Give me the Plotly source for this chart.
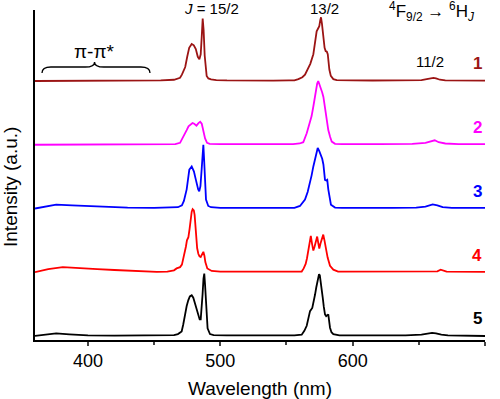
import plotly.graph_objects as go

# ---- data: (wavelength nm, normalised intensity) ----
curve1 = [(360, 0.0), (380, 0.0), (400, 0.0), (420, 0.0), (440, 0.005), (455, 0.01), (465, 0.02),
          (469.6, 0.05), (471, 0.1), (472, 0.16), (473.5, 0.22), (475, 0.38), (476.5, 0.52), (478.4, 0.58),
          (480, 0.56), (481.5, 0.5), (483, 0.38), (484.2, 0.34), (485.2, 0.42), (486, 0.7), (486.7, 0.98),
          (487.4, 0.8), (488.2, 0.4), (489.7, 0.08), (491, 0.04), (493, 0.025), (497, 0.015), (505, 0.01),
          (520, 0.005), (540, 0.005), (552, 0.01), (556, 0.01), (559, 0.03), (562, 0.06), (564, 0.1),
          (566, 0.18), (568, 0.27), (570.3, 0.42), (571.8, 0.6), (572.8, 0.78), (573.8, 0.82), (574.8, 0.86),
          (575.5, 0.95), (576.1, 1.0), (576.8, 0.9), (577.9, 0.68), (578.8, 0.52), (579.6, 0.47),
          (580.5, 0.46), (581.2, 0.42), (582.4, 0.18), (583.5, 0.08), (585.4, 0.03), (588, 0.015),
          (592, 0.01), (600, 0.01), (615, 0.008), (630, 0.008), (645, 0.01), (652, 0.015), (656, 0.03),
          (659, 0.045), (661, 0.05), (663, 0.04), (666, 0.02), (670, 0.01), (680, 0.005), (690, 0.005),
          (700, 0.005)]

curve2 = [(360, 0.0), (400, 0.0), (440, 0.0), (460, 0.005), (466, 0.01), (469.6, 0.03), (471.5, 0.1),
          (473.3, 0.16), (474.6, 0.23), (476, 0.29), (477.5, 0.31), (479, 0.34), (480.3, 0.33), (482, 0.3),
          (483.5, 0.34), (484.8, 0.36), (486, 0.33), (487.2, 0.23), (488.5, 0.1), (490, 0.03), (492, 0.015),
          (500, 0.01), (540, 0.005), (555, 0.01), (560, 0.02), (562.7, 0.04), (565.3, 0.18), (566.5, 0.28),
          (567.8, 0.34), (569, 0.45), (570.3, 0.6), (572.3, 0.86), (573.2, 0.96), (574, 1.0), (575, 0.95),
          (575.9, 0.89), (577, 0.82), (577.9, 0.75), (578.8, 0.62), (579.6, 0.5), (580.6, 0.35),
          (581.6, 0.23), (583, 0.12), (584.2, 0.05), (586.7, 0.015), (592, 0.01), (620, 0.01), (645, 0.015),
          (655, 0.03), (659, 0.055), (662, 0.07), (665, 0.04), (670, 0.02), (680, 0.01), (700, 0.01)]

curve3 = [(360, 0.0), (368, 0.03), (376, 0.06), (388, 0.05), (400, 0.04), (415, 0.025), (430, 0.015),
          (450, 0.01), (463, 0.01), (468, 0.02), (471, 0.05), (472.5, 0.12), (474.6, 0.3), (476.6, 0.61),
          (478.4, 0.66), (480.1, 0.58), (481.2, 0.48), (482.2, 0.38), (483.3, 0.3), (484.1, 0.27),
          (485, 0.35), (485.9, 0.61), (486.6, 0.88), (487.2, 1.0), (487.7, 0.8), (488.2, 0.56),
          (489.2, 0.14), (490.9, 0.04), (493, 0.02), (500, 0.01), (540, 0.005), (556, 0.01), (560.2, 0.04),
          (562, 0.08), (564, 0.14), (566, 0.26), (567.8, 0.4), (569, 0.52), (570.3, 0.66), (572.3, 0.87),
          (573.6, 0.95), (574.8, 0.9), (576.1, 0.84), (577, 0.78), (577.9, 0.69), (579.1, 0.45),
          (580, 0.44), (580.8, 0.45), (581.6, 0.3), (582.6, 0.15), (583.6, 0.06), (586.7, 0.015),
          (592, 0.01), (630, 0.01), (648, 0.015), (655, 0.03), (660.5, 0.065), (664, 0.05), (668, 0.02),
          (675, 0.01), (700, 0.01)]

curve4 = [(360, 0.0), (370, 0.05), (381, 0.08), (395, 0.07), (407, 0.05), (420, 0.035), (432, 0.02),
          (445, 0.01), (452, 0.005), (460, 0.01), (465, 0.03), (467, 0.06), (469.6, 0.08), (471, 0.12),
          (472, 0.2), (472.8, 0.27), (474, 0.4), (474.8, 0.5), (475.9, 0.55), (476.8, 0.68), (477.6, 0.86),
          (478.4, 0.95), (479.1, 0.99), (480, 0.97), (480.6, 0.9), (481.6, 0.55), (482.5, 0.38),
          (483.4, 0.29), (484.3, 0.25), (485.2, 0.24), (486.3, 0.29), (487.2, 0.32), (488, 0.26),
          (488.7, 0.16), (490.2, 0.06), (493.5, 0.02), (500, 0.01), (540, 0.005), (556, 0.005),
          (561.5, 0.01), (563, 0.06), (564.5, 0.13), (565.5, 0.22), (566.5, 0.34), (567.5, 0.52),
          (568.4, 0.57), (569.3, 0.45), (570.3, 0.34), (571.2, 0.4), (572.1, 0.5), (573.2, 0.56),
          (574.1, 0.45), (574.8, 0.37), (575.7, 0.45), (576.6, 0.53), (577.8, 0.59), (578.7, 0.5),
          (579.6, 0.39), (581.1, 0.23), (582.9, 0.1), (585.4, 0.04), (589, 0.01), (600, 0.01),
          (640, 0.005), (660, 0.01), (664, 0.015), (666.5, 0.04), (668.5, 0.03), (671, 0.01), (700, 0.005)]

curve5 = [(360, 0.0), (368, 0.02), (376, 0.04), (386, 0.025), (400, 0.01), (420, 0.005), (440, 0.005),
          (450, 0.01), (455, 0.015), (460, 0.01), (465, 0.015), (468, 0.03), (470.8, 0.07), (472, 0.18),
          (473.3, 0.35), (474.6, 0.47), (475.8, 0.56), (477, 0.62), (478.4, 0.64), (479.6, 0.6),
          (480.9, 0.51), (482.2, 0.4), (483.4, 0.3), (484.4, 0.26), (485.2, 0.26), (486, 0.42),
          (486.6, 0.65), (487.3, 0.9), (487.9, 0.98), (488.5, 0.8), (489.2, 0.52), (489.8, 0.25),
          (490.4, 0.12), (492.2, 0.03), (495, 0.015), (505, 0.01), (540, 0.005), (556, 0.01),
          (561.5, 0.02), (563.5, 0.08), (565.3, 0.16), (566.5, 0.26), (567.8, 0.39), (569.5, 0.44),
          (570.5, 0.52), (571.6, 0.65), (572.5, 0.76), (573.3, 0.86), (574.6, 0.97), (575.2, 0.95),
          (575.9, 0.86), (576.6, 0.74), (577.4, 0.6), (578.2, 0.46), (579.1, 0.34), (580, 0.31),
          (580.8, 0.32), (581.6, 0.34), (582.2, 0.24), (582.9, 0.13), (584, 0.06), (585.4, 0.03),
          (590, 0.01), (620, 0.005), (640, 0.01), (652, 0.02), (657, 0.04), (660, 0.05), (663, 0.04),
          (667, 0.02), (672, 0.01), (690, 0.005), (700, 0.0)]

curve_names = ["1", "2", "3", "4", "5"]
curve_colors = ["#9B1414", "#FF00FF", "#0000FF", "#FF0000", "#000000"]
curve_offsets = [4, 3, 2, 1, 0]
x_ticks = [400, 500, 600, 700]

FONT = "Arial, Liberation Sans, sans-serif"
fig = go.Figure()
curves = [curve1, curve2, curve3, curve4, curve5]
for data, name, col, off in zip(curves, curve_names, curve_colors, curve_offsets):
    xs = [p[0] for p in data]
    ys = [p[1] + off for p in data]
    fig.add_trace(go.Scatter(x=xs, y=ys, mode="lines", name=name,
                             line=dict(color=col, width=1.8), showlegend=False))
    fig.add_annotation(x=694, y=off + 0.27, text="<b>%s</b>" % name, showarrow=False,
                       font=dict(family=FONT, size=17, color=col), xanchor="center", yanchor="middle")

# peak / transition labels
fig.add_annotation(x=493.7, y=1.006, yref="paper", text="<i>J</i> = 15/2", showarrow=False,
                   font=dict(family=FONT, size=15, color="black"), yanchor="middle")
fig.add_annotation(x=578.4, y=1.006, yref="paper", text="13/2", showarrow=False,
                   font=dict(family=FONT, size=15, color="black"), yanchor="middle")
fig.add_annotation(x=658.5, y=4.30, text="11/2", showarrow=False,
                   font=dict(family=FONT, size=15, color="black"), yanchor="middle")
fig.add_annotation(x=660, y=0.995, yref="paper",
                   text="<sup>4</sup>F<sub>9/2</sub> \u2192 <sup>6</sup>H<sub><i>J</i></sub>",
                   showarrow=False, font=dict(family=FONT, size=17, color="black"), yanchor="middle")
fig.add_annotation(x=404.6, y=4.47, text="\u03c0-\u03c0*", showarrow=False,
                   font=dict(family=FONT, size=19, color="black"), yanchor="middle")

# brace under pi-pi*
fig.add_shape(type="path", xref="x", yref="y",
              path="M 365.3,4.125 Q 365.3,4.22 372,4.22 L 398,4.22 Q 405,4.22 405,4.30 "
                   "Q 405,4.22 412,4.22 L 440,4.22 Q 446.9,4.22 446.9,4.125",
              line=dict(color="black", width=1.3))

# axis titles
fig.add_annotation(xref="paper", yref="paper", x=0.5, y=-0.1455, text="Wavelength (nm)",
                   showarrow=False, font=dict(family=FONT, size=19, color="black"),
                   xanchor="center", yanchor="middle")
fig.add_annotation(xref="paper", yref="paper", x=-0.0556, y=0.4636, text="Intensity (a.u.)",
                   textangle=-90, showarrow=False, font=dict(family=FONT, size=19, color="black"),
                   xanchor="center", yanchor="middle")

fig.update_layout(
    width=500, height=399,
    margin=dict(l=35, r=15, t=10, b=59),
    paper_bgcolor="white", plot_bgcolor="white",
    font=dict(family=FONT, color="black"),
    xaxis=dict(range=[360, 700], tickvals=x_ticks, ticks="outside", ticklen=4, tickwidth=1.5,
               showline=True, linecolor="black", linewidth=1.5, showgrid=False, zeroline=False,
               tickfont=dict(family=FONT, size=18, color="black"),
               minor=dict(ticks="outside", ticklen=3, tickwidth=1.5, tickvals=[450, 550, 650],
                          showgrid=False)),
    yaxis=dict(range=[-0.063, 5.114], showticklabels=False, ticks="", showline=True,
               linecolor="black", linewidth=1.5, showgrid=False, zeroline=False),
)

# remove the page's default body margin so the figure fills the window from its corner
fig.write_html("out.html", config={"displayModeBar": False},
               post_script="document.body.style.margin='0px';document.body.style.overflow='hidden';")
